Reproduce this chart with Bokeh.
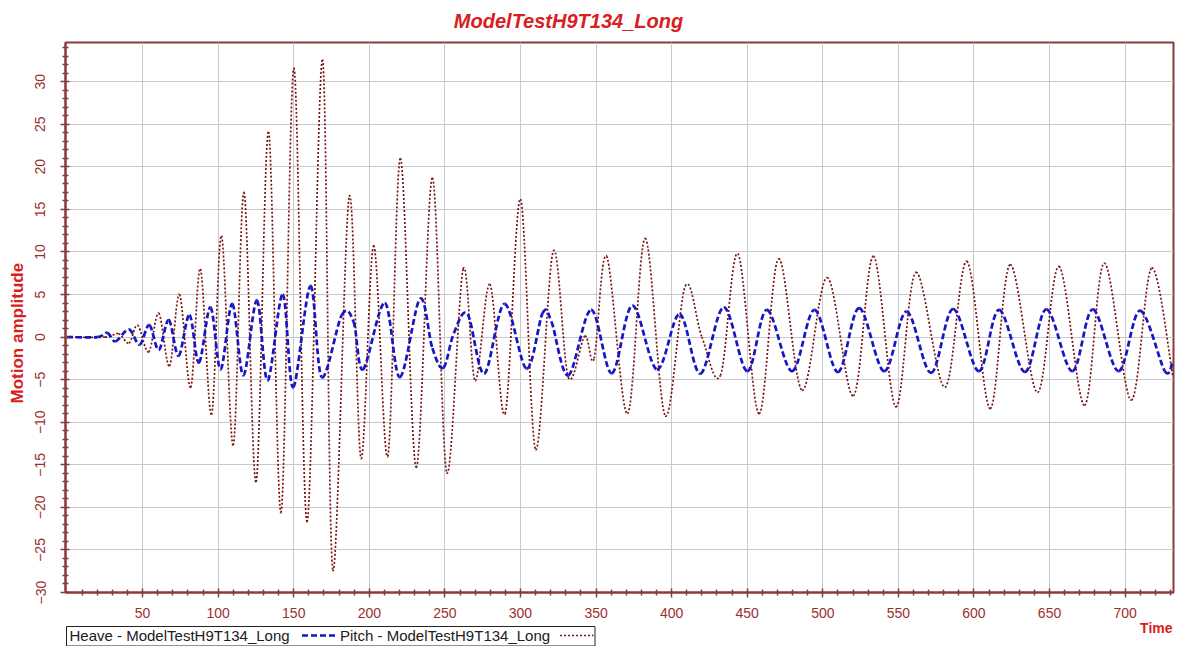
from bokeh.plotting import figure
from bokeh.models import FixedTicker, Range1d, Title
from bokeh.layouts import column
from bokeh.core.properties import value
from bokeh.embed import file_html
from bokeh.resources import INLINE

TITLE = "ModelTestH9T134_Long"
Y_LABEL = "Motion amplitude"
X_LABEL = "Time"
HEAVE_NAME = "Heave - ModelTestH9T134_Long"
PITCH_NAME = "Pitch - ModelTestH9T134_Long"

# Heave (blue dashed): times and values of turning points
heave_t = [0, 20, 26.7, 32, 41, 48, 54.4, 60.7, 67.3, 73.8, 81, 87.3, 94.9, 101.6,
           109.3, 116.7, 125.6, 132.7, 142.7, 149.6, 161, 168.5, 181.8, 189.6, 195.8,
           210.2, 220.2, 233.5, 241.7, 249, 256, 265, 276, 289.4, 304, 314.6, 320.5,
           331.6, 346.7, 360.4, 374, 390.3, 405.3, 419, 434.5, 450, 463, 479.6, 494.5,
           510, 524, 540.6, 555.4, 571.6, 586.2, 603.2, 616.6, 633.7, 647.9, 665,
           678.6, 695.6, 709.8, 726.3, 731.5]
heave_v = [0, 0, 0.5, -0.5, 0.9, -0.9, 1.4, -1.5, 2.0, -2.2, 2.6, -3.0, 3.5, -3.8,
           3.9, -4.5, 4.3, -5.1, 5.0, -5.9, 6.0, -4.7, 2.6, 1.8, -3.8,
           4.0, -4.7, 4.5, -1.3, -3.6, 0.5, 2.7, -4.3, 3.9, -3.7, 2.8, 1.8,
           -4.5, 3.2, -4.25, 3.7, -3.8, 2.7, -4.3, 3.5, -4.0, 3.2, -4.0, 3.2,
           -4.1, 3.4, -4.0, 3.0, -4.2, 3.3, -4.0, 3.2, -4.1, 3.25, -4.0,
           3.25, -4.0, 3.1, -4.0, -2.8]

# Pitch (dark red dotted): times and values of turning points
pitch_t = [0, 25, 34, 41, 46.7, 54, 60.7, 67.8, 74.4, 81.8, 88.2, 95.6, 102.2, 110,
           117.1, 125.1, 133.3, 141.6, 150.1, 158.8, 169, 175.8, 186.7, 194.5, 202.9,
           212.2, 220.6, 231, 241.7, 251.2, 262.1, 270, 279.8, 289.8, 300, 310, 321.7,
           331.6, 342.5, 348.7, 357, 370.8, 382.5, 395.8, 409, 420, 432.3, 443.8,
           457.8, 470.7, 486.3, 502.9, 520.2, 533.5, 548.3, 561.6, 580.8, 595.3,
           610.7, 623.9, 642, 656.2, 673.1, 686.2, 704, 717.5, 731.5]
pitch_v = [0, 0, 0.4, -0.7, 1.4, -1.75, 2.8, -3.4, 5.0, -5.9, 8.0, -9.1, 11.9, -12.7,
           17.0, -17.0, 24.1, -20.6, 31.6, -21.7, 32.6, -27.3, 16.5, -14.25, 10.75,
           -14.0, 21.0, -15.3, 18.7, -15.9, 8.0, -5.1, 6.2, -9.0, 16.2, -13.2, 10.1,
           -4.7, 0.1, -2.5, 9.5, -9.0, 11.6, -9.25, 6.0, 0.0, -4.5, 9.8,
           -9.0, 9.2, -6.25, 7.0, -6.9, 9.5, -8.2, 7.6, -5.9, 8.9,
           -8.4, 8.5, -6.5, 8.3, -8.0, 8.7, -7.4, 8.1, -4.5]

x_ticks = list(range(50, 701, 50))
x_minor = [t for t in range(10, 731, 10) if t % 50 != 0]
y_ticks = list(range(-30, 31, 5))
y_minor = [t for t in range(-29, 35) if t % 5 != 0]

AXIS_COL = "#8B3A3A"
TICK_LBL_COL = "#9A3030"
RED = "#D8201E"
HEAVE_COL = "#1616C4"
PITCH_COL = "#7A1212"
FONT = "Liberation Sans"

FRAME_L, FRAME_R = 65, 1173   # page pixels of the plot frame (strips share it)


def smooth_segments(xs, ys):
    """Bezier segments through the read points (Catmull-Rom tangents)."""
    n = len(xs)
    seg = dict(x0=[], y0=[], x1=[], y1=[], cx0=[], cy0=[], cx1=[], cy1=[])
    for i in range(n - 1):
        a = max(i - 1, 0)
        d = min(i + 2, n - 1)
        seg["x0"].append(xs[i]); seg["y0"].append(ys[i])
        seg["x1"].append(xs[i + 1]); seg["y1"].append(ys[i + 1])
        seg["cx0"].append(xs[i] + (xs[i + 1] - xs[a]) / 6.0)
        seg["cy0"].append(ys[i] + (ys[i + 1] - ys[a]) / 6.0)
        seg["cx1"].append(xs[i + 1] - (xs[d] - xs[i]) / 6.0)
        seg["cy1"].append(ys[i + 1] - (ys[d] - ys[i]) / 6.0)
    return seg


def strip(height):
    f = figure(width=1184, height=height, output_backend="svg", toolbar_location=None,
               x_axis_location=None, y_axis_location=None,
               x_range=Range1d(FRAME_L, FRAME_R), y_range=Range1d(height, 0),
               min_border_left=0, min_border_right=0, min_border_top=0,
               min_border_bottom=0)
    f.grid.visible = False
    f.outline_line_color = None
    f.background_fill_color = "white"
    f.border_fill_color = "white"
    return f


# ---- top strip: title
top = strip(36)
top.text(x=[568], y=[20], text=[TITLE], text_font=value(FONT),
         text_font_size=value("20px"), text_font_style="bold italic", text_color=RED,
         text_align="center", text_baseline="middle")

# ---- main chart
p = figure(width=1184, height=584, output_backend="svg", toolbar_location=None,
           x_range=Range1d(-1, 732), y_range=Range1d(-30, 34.6),
           min_border_left=65, min_border_right=11, min_border_top=6,
           min_border_bottom=27)
p.background_fill_color = "white"
p.border_fill_color = "white"
p.outline_line_color = AXIS_COL
p.outline_line_width = 2

p.add_layout(Title(text=Y_LABEL, align="left", offset=189, standoff=11,
                   text_font=FONT, text_font_size="17px", text_font_style="bold",
                   text_color=RED), "left")

p.xaxis.ticker = FixedTicker(ticks=x_ticks, minor_ticks=x_minor)
p.yaxis.ticker = FixedTicker(ticks=y_ticks, minor_ticks=y_minor)
for ax in (p.xaxis, p.yaxis):
    ax.axis_line_color = AXIS_COL
    ax.axis_line_width = 2
    ax.major_tick_line_color = AXIS_COL
    ax.minor_tick_line_color = AXIS_COL
    ax.major_tick_line_width = 1.5
    ax.minor_tick_line_width = 1.5
    ax.major_tick_in = 4
    ax.major_tick_out = 5
    ax.minor_tick_in = 3
    ax.minor_tick_out = 3
    ax.major_label_text_font = FONT
    ax.major_label_text_font_size = "14px"
    ax.major_label_text_color = TICK_LBL_COL
p.xaxis.major_label_standoff = 10
p.yaxis.major_label_standoff = 15
p.yaxis.major_label_orientation = "vertical"

p.xgrid.grid_line_color = "#C9C9C9"
p.ygrid.grid_line_color = "#C9C9C9"
p.xgrid.grid_line_width = 1
p.ygrid.grid_line_width = 1

ps = smooth_segments(pitch_t, pitch_v)
hs = smooth_segments(heave_t, heave_v)
p.bezier(source=ps, x0="x0", y0="y0", x1="x1", y1="y1", cx0="cx0", cy0="cy0",
         cx1="cx1", cy1="cy1", line_color=PITCH_COL, line_width=1.7, line_dash="2 2")
p.bezier(source=hs, x0="x0", y0="y0", x1="x1", y1="y1", cx0="cx0", cy0="cy0",
         cx1="cx1", cy1="cy1", line_color=HEAVE_COL, line_width=2.7, line_dash="6 3")

# ---- bottom strip: legend (text first, then line sample) and "Time"
s = strip(26)
s.quad(left=[66], right=[594.5], top=[6], bottom=[25.5], fill_color="white",
       line_color="#222222", line_width=1)
s.text(x=[69], y=[15], text=[HEAVE_NAME], text_font=value(FONT),
       text_font_size=value("15px"), text_color="#202020", text_align="left",
       text_baseline="middle")
s.line(x=[301.5, 335.5], y=[15, 15], line_color=HEAVE_COL, line_width=2.6,
       line_dash="6 3")
s.text(x=[339.5], y=[15], text=[PITCH_NAME], text_font=value(FONT),
       text_font_size=value("15px"), text_color="#202020", text_align="left",
       text_baseline="middle")
s.line(x=[559.5, 593], y=[15, 15], line_color=PITCH_COL, line_width=1.4,
       line_dash="2 2")
s.text(x=[1172], y=[7], text=[X_LABEL], text_font=value(FONT),
       text_font_size=value("14px"), text_font_style="bold", text_color=RED,
       text_align="right", text_baseline="middle")

open("out.html", "w").write(file_html(column(top, p, s), INLINE))
